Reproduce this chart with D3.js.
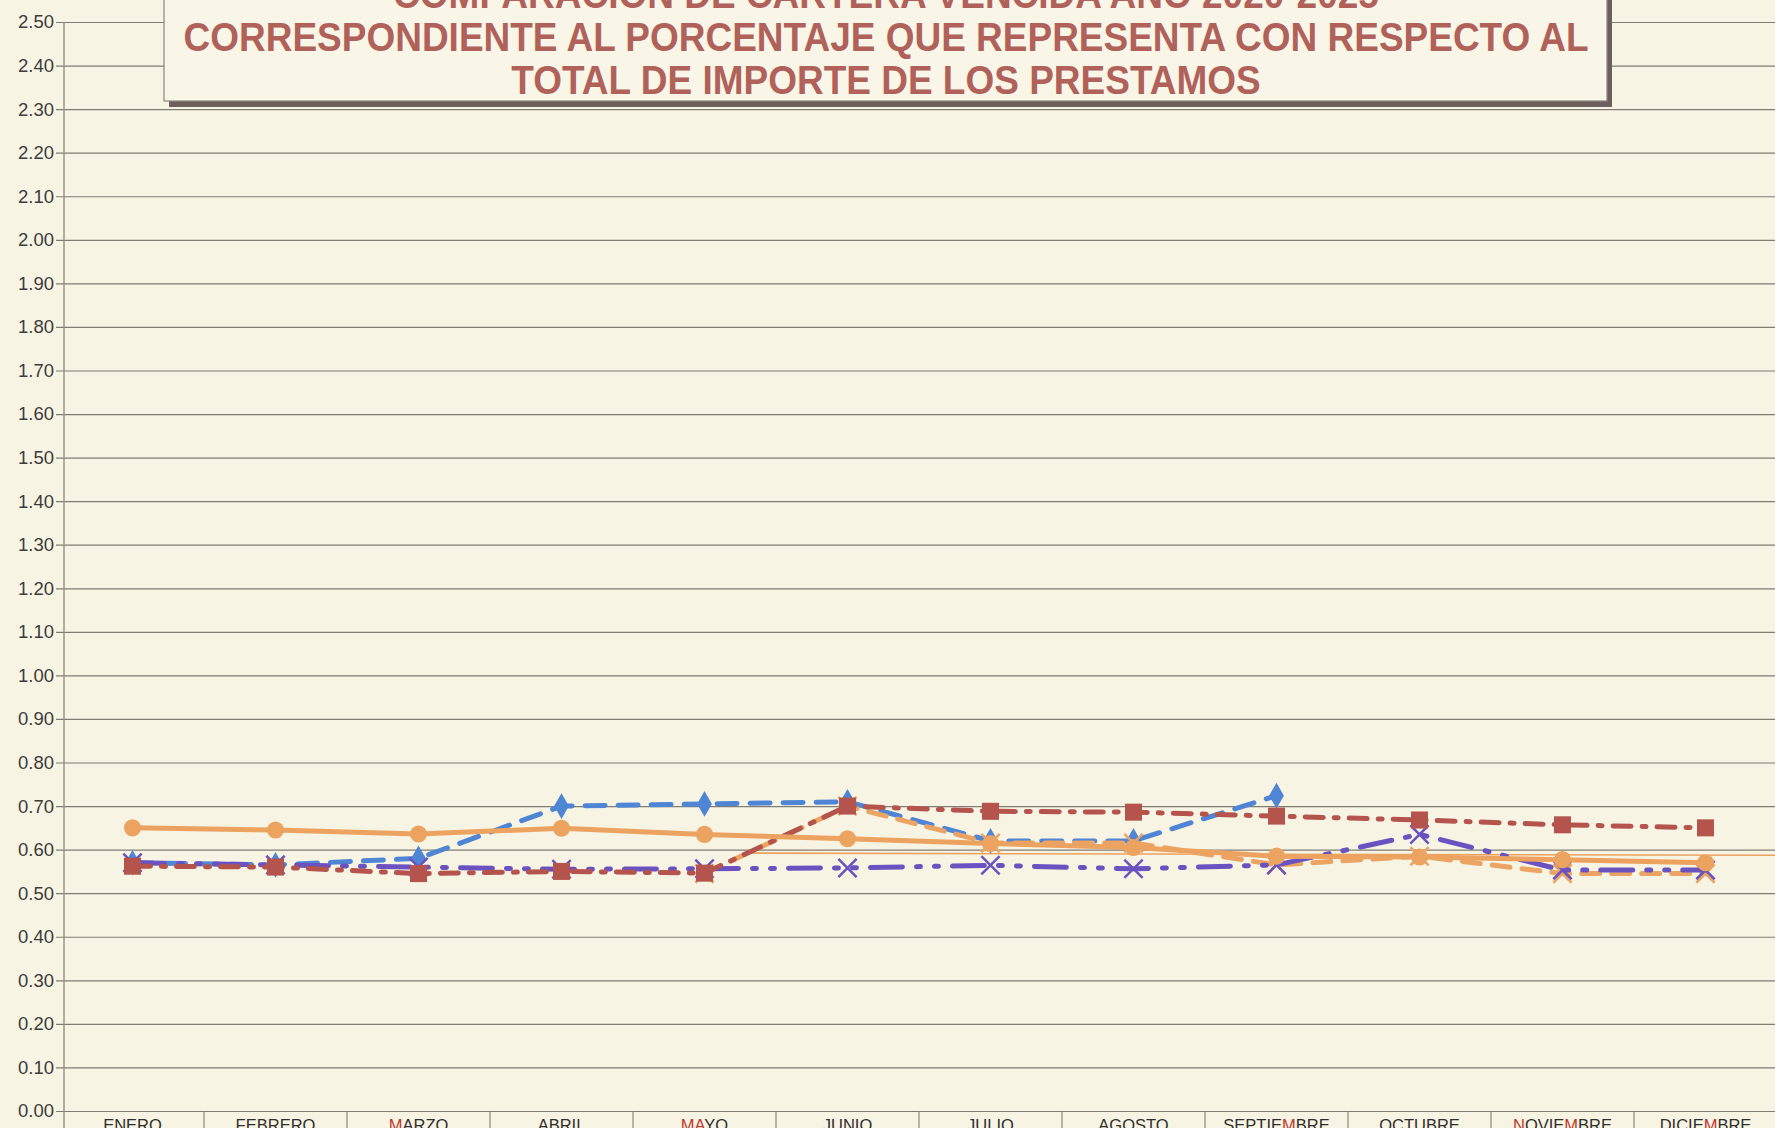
<!DOCTYPE html>
<html>
<head>
<meta charset="utf-8">
<script src="https://cdn.jsdelivr.net/npm/d3@7"></script>
<style>
  html, body { margin: 0; padding: 0; background: #f8f4e3; overflow: hidden; }
  svg { display: block; }
</style>
</head>
<body>
<div id="chart"></div>
<script>
// meses (eje x)
const months = ['ENERO', 'FEBRERO', 'MARZO', 'ABRIL', 'MAYO', 'JUNIO', 'JULIO',
                'AGOSTO', 'SEPTIEMBRE', 'OCTUBRE', 'NOVIEMBRE', 'DICIEMBRE']
// letras que salen en rojo en las etiquetas
const redLetters = { MARZO: [0], MAYO: [0, 1], SEPTIEMBRE: [6], NOVIEMBRE: [0, 5], DICIEMBRE: [5] }

const yTicks = [0, 0.1, 0.2, 0.3, 0.4, 0.5, 0.6, 0.7, 0.8, 0.9, 1.0, 1.1, 1.2,
                1.3, 1.4, 1.5, 1.6, 1.7, 1.8, 1.9, 2.0, 2.1, 2.2, 2.3, 2.4, 2.5]

const titleLines = [
  'COMPARACION DE CARTERA VENCIDA AÑO 2020-2025',
  'CORRESPONDIENTE AL PORCENTAJE QUE REPRESENTA CON RESPECTO AL',
  'TOTAL DE IMPORTE DE LOS PRESTAMOS'
]

// porcentajes por serie
const serieAzul    = [0.57, 0.565, 0.58, 0.70, 0.705, 0.71, 0.62, 0.62, 0.724, null, null, null]
const serieGuion   = [null, null, null, null, 0.545, 0.70, 0.615, 0.615, 0.565, 0.585, 0.545, 0.545]
const serieMorada  = [0.57, 0.565, 0.56, 0.555, 0.556, 0.558, 0.564, 0.556, 0.565, 0.635, 0.553, 0.553]
const serieRoja    = [0.562, 0.56, 0.545, 0.55, 0.546, 0.70, 0.688, 0.686, 0.677, 0.668, 0.657, 0.65]
const serieNaranja = [0.65, 0.645, 0.636, 0.649, 0.635, 0.625, 0.614, 0.605, 0.585, 0.583, 0.577, 0.57]
// linea delgada naranja (desde indice de mes, valor)
const lineaDelgada = [[4.3, 0.592], [11.6, 0.587]]

const width = 1775, height = 1128
const x = d3.scaleLinear().domain([-0.5, 11.5]).range([61, 1777])
const y = d3.scaleLinear().domain([0, 2.5]).range([1111, 22])

const svg = d3.select('#chart').append('svg')
  .attr('width', width)
  .attr('height', height)

svg.append('rect').attr('width', width).attr('height', height).attr('fill', '#f8f4e3')

// gridlines + y labels
const yAxis = d3.axisLeft(y)
  .tickValues(yTicks)
  .tickFormat(d3.format('.2f'))
  .tickSize(-(width - 56))
  .tickPadding(4)

const gy = svg.append('g')
  .attr('transform', 'translate(64,0)')
  .call(yAxis)
gy.select('.domain').remove()
gy.selectAll('.tick line')
  .attr('x1', -8)
  .attr('stroke', '#7f7c75')
  .attr('stroke-width', 1.2)
gy.selectAll('.tick text')
  .attr('fill', '#3c3c3c')
  .style('font-family', '"Liberation Sans", Arial, sans-serif')
  .style('font-size', '18.5px')
  .attr('x', -10)

// y axis line
svg.append('line')
  .attr('x1', 64).attr('x2', 64)
  .attr('y1', y(2.5)).attr('y2', height)
  .attr('stroke', '#8a877f').attr('stroke-width', 1.3)

// category cells under the axis
svg.append('g').selectAll('line')
  .data(d3.range(1, months.length + 1))
  .enter().append('line')
    .attr('x1', d => x(d - 0.5)).attr('x2', d => x(d - 0.5))
    .attr('y1', y(0)).attr('y2', height)
    .attr('stroke', '#8a877f').attr('stroke-width', 1.2)

const labels = svg.append('g').selectAll('text')
  .data(months)
  .enter().append('text')
    .attr('x', (d, i) => x(i))
    .attr('y', 1131)
    .attr('text-anchor', 'middle')
    .style('font-family', '"Liberation Sans", Arial, sans-serif')
    .style('font-size', '16.5px')
    .attr('fill', '#2e2e2e')

labels.each(function (m) {
  const reds = redLetters[m] || []
  d3.select(this).selectAll('tspan')
    .data(m.split(''))
    .enter().append('tspan')
      .text(c => c)
      .attr('fill', (c, i) => reds.includes(i) ? '#c0392f' : '#2e2e2e')
})

// thin orange line
svg.append('path')
  .attr('d', d3.line().x(d => x(d[0])).y(d => y(d[1]))(lineaDelgada))
  .attr('fill', 'none')
  .attr('stroke', '#eba25f')
  .attr('stroke-width', 1.6)

const line = d3.line()
  .defined(d => d != null)
  .x((d, i) => x(i))
  .y(d => y(d))

const series = [
  { data: serieAzul,    color: '#4f85d5', dash: '20,13', width: 5,   marker: 'diamond' },
  { data: serieGuion,   color: '#eba463', dash: '18,12', width: 5,   marker: 'x' },
  { data: serieMorada,  color: '#6a52c0', dash: '32,14,4,14,4,14', width: 5, marker: 'x' },
  { data: serieRoja,    color: '#b4544d', dash: '18,11,4,11', width: 5, marker: 'square' },
  { data: serieNaranja, color: '#eca35f', dash: null,    width: 5,   marker: 'circle' }
]

const symbols = {
  diamond: d3.symbol().type(d3.symbolDiamond).size(190),
  square: d3.symbol().type(d3.symbolSquare).size(290),
  circle: d3.symbol().type(d3.symbolCircle).size(230),
  x: d3.symbol().type(d3.symbolX).size(220)
}

series.forEach(s => {
  const g = svg.append('g')
  g.append('path')
    .datum(s.data)
    .attr('d', line)
    .attr('fill', 'none')
    .attr('stroke', s.color)
    .attr('stroke-width', s.width)
    .attr('stroke-linecap', 'round')
    .attr('stroke-dasharray', s.dash)

  g.selectAll('path.mk')
    .data(s.data.map((v, i) => [i, v]).filter(d => d[1] != null))
    .enter().append('path')
      .attr('class', 'mk')
      .attr('transform', d => `translate(${x(d[0])},${y(d[1])})`)
      .attr('d', symbols[s.marker])
      .attr('fill', s.marker === 'x' ? 'none' : s.color)
      .attr('stroke', s.color)
      .attr('stroke-width', s.marker === 'x' ? 2.5 : 0)
})

// title box
const box = svg.append('g')
box.append('rect')
  .attr('x', 169).attr('y', -20).attr('width', 1443).attr('height', 127)
  .attr('fill', '#6b605b')
box.append('rect')
  .attr('x', 164).attr('y', -20).attr('width', 1443).attr('height', 121)
  .attr('fill', '#f9f6e8')
  .attr('stroke', '#8a857e').attr('stroke-width', 1.2)

box.append('g')
  .attr('transform', 'translate(886,0) scale(0.925,1)')
  .selectAll('text')
  .data(titleLines)
  .enter().append('text')
    .attr('x', 0)
    .attr('y', (d, i) => 8 + i * 43)
    .attr('text-anchor', 'middle')
    .style('font-family', '"Liberation Sans", Arial, sans-serif')
    .style('font-weight', 'bold')
    .style('font-size', '40px')
    .attr('fill', '#b0615a')
    .text(d => d)
</script>
</body>
</html>
